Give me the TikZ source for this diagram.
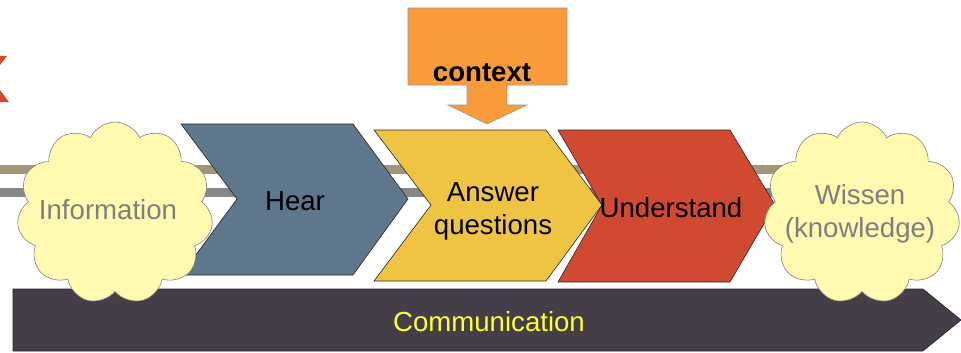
\documentclass[tikz,border=0pt]{standalone}
\usepackage{fontspec}
\setmainfont{Liberation Sans}
\usetikzlibrary{shapes.symbols}
\definecolor{hearblue}{RGB}{94,119,140}
\definecolor{answeryellow}{RGB}{239,196,67}
\definecolor{understandred}{RGB}{209,73,49}
\definecolor{commdark}{RGB}{69,61,71}
\definecolor{contextorange}{RGB}{249,155,58}
\definecolor{cloudyellow}{RGB}{255,250,176}
\definecolor{tanline}{RGB}{163,149,117}
\definecolor{greyline}{RGB}{135,135,135}
\definecolor{cloudtext}{RGB}{127,127,127}
\definecolor{commtext}{RGB}{255,255,51}

\begin{document}
\begin{tikzpicture}[x=1pt,y=-1pt,
    chevron/.style={draw=black!85, line width=0.6pt},
    label/.style={font=\fontsize{27.6}{33}\selectfont, align=center, inner sep=0pt},
    puff/.style={cloud, cloud puffs=11, cloud puff arc=130, cloud ignores aspect,
        draw=gray, line width=0.6pt, fill=cloudyellow, inner sep=0pt,
        minimum width=196pt, minimum height=182pt}]
            \useasboundingbox (0,0) rectangle (961,353);
            % red corner of an other slide
            \fill[understandred] (0,56) -- (7,56) -- (0,65) -- cycle;
            \fill[understandred] (0,90) -- (9,102) -- (0,102) -- cycle;
            % two lines in the back
            \fill[tanline] (0,165) rectangle (790,174);
            \fill[greyline] (0,188) rectangle (780,197);
            % bar at the bottom
            \draw[chevron, fill=commdark] (13,289) -- (923,289) -- (961,320) -- (923,351) -- (13,351) -- cycle;
            \node[label, text=commtext] (comm) at (489,322) {Communication};
            % the three steps
            \draw[chevron, fill=hearblue] (181,124) -- (353,124) -- (408,199) -- (353,275) -- (181,275) -- (237,199) -- cycle;
            \draw[chevron, fill=answeryellow] (374,130) -- (546,130) -- (602,205) -- (546,281) -- (374,281) -- (431,205) -- cycle;
            \draw[chevron, fill=understandred] (558,130) -- (730,130) -- (775,205) -- (730,282) -- (558,282) -- (602,205) -- cycle;
            \node[label] (hear) at (295,201) {Hear};
            \node[label] (answer) at (493,211) {Answer\\questions};
            \node[label] (understand) at (671,208) {Understand};
            % clouds
            \node[puff] (info) at (115,213) {};
            \node[puff] (wissen) at (862,213) {};
            \node[label, text=cloudtext] (infotext) at (108,210) {Information};
            \node[label, text=cloudtext] (wissentext) at (860,214) {Wissen\\(knowledge)};
            % context arrow
            \draw[draw=gray!80, line width=0.6pt, fill=contextorange] (408,8) -- (567,8) -- (567,85) -- (507,85) -- (507,105)
                -- (527,105) -- (487,124) -- (448,105) -- (467,105) -- (467,85) -- (408,85) -- cycle;
            \node[label, font=\fontsize{27.6}{33}\selectfont\bfseries] (context) at (482,73) {context};
        \end{tikzpicture}
\end{document}
